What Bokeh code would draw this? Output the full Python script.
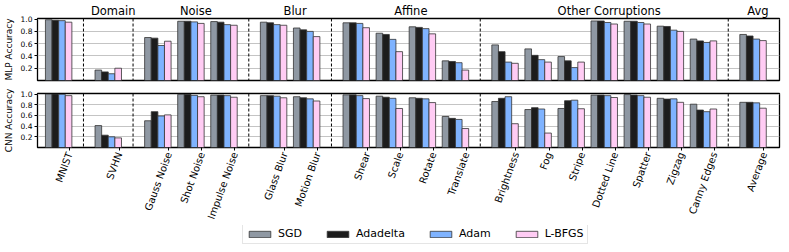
import math
from bokeh.plotting import figure
from bokeh.models import (ColumnDataSource, FixedTicker, LinearAxis, Span, Legend,
                          LegendItem, Range1d, PrintfTickFormatter)
from bokeh.layouts import column
from bokeh.embed import file_html
from bokeh.resources import INLINE

# ---------------- data ----------------
categories = ["MNIST", "SVHN", "Gauss Noise", "Shot Noise", "Impulse Noise",
              "Glass Blur", "Motion Blur", "Shear", "Scale", "Rotate", "Translate",
              "Brightness", "Fog", "Stripe", "Dotted Line", "Spatter", "Zigzag",
              "Canny Edges", "Average"]
group_names = ["", "Domain", "Noise", "Blur", "Affine", "Other Corruptions", "Avg"]
group_sizes = [1, 1, 3, 2, 4, 7, 1]
group_title_anchor = [None, 1, 3, (5, 6), (8, 9), 14, 18]

series = ["SGD", "Adadelta", "Adam", "L-BFGS"]
colors = ["#8f98a3", "#1c1c1c", "#7fb3ff", "#ffccf4"]

mlp_sgd      = [0.99, 0.17, 0.70, 0.965, 0.96, 0.95, 0.855, 0.94, 0.77, 0.875, 0.32, 0.58, 0.515, 0.39, 0.97, 0.965, 0.885, 0.675, 0.75]
mlp_adadelta = [0.98, 0.14, 0.69, 0.965, 0.95, 0.94, 0.825, 0.94, 0.75, 0.865, 0.31, 0.47, 0.41, 0.32, 0.97, 0.965, 0.88, 0.645, 0.725]
mlp_adam     = [0.975, 0.11, 0.57, 0.955, 0.91, 0.91, 0.80, 0.93, 0.67, 0.845, 0.29, 0.30, 0.34, 0.21, 0.945, 0.945, 0.82, 0.62, 0.675]
mlp_lbfgs    = [0.95, 0.20, 0.64, 0.93, 0.90, 0.90, 0.715, 0.86, 0.47, 0.76, 0.17, 0.28, 0.30, 0.30, 0.92, 0.92, 0.80, 0.645, 0.65]

cnn_sgd      = [1.0, 0.41, 0.50, 0.995, 0.98, 0.97, 0.95, 0.985, 0.96, 0.93, 0.58, 0.86, 0.71, 0.73, 0.98, 0.99, 0.92, 0.81, 0.845]
cnn_adadelta = [1.0, 0.23, 0.67, 0.995, 0.98, 0.97, 0.93, 0.985, 0.94, 0.92, 0.545, 0.92, 0.745, 0.875, 0.98, 0.98, 0.905, 0.70, 0.845]
cnn_adam     = [0.995, 0.20, 0.59, 0.975, 0.97, 0.96, 0.91, 0.97, 0.92, 0.91, 0.525, 0.95, 0.72, 0.885, 0.97, 0.97, 0.91, 0.67, 0.835]
cnn_lbfgs    = [0.97, 0.18, 0.61, 0.95, 0.94, 0.93, 0.87, 0.915, 0.73, 0.84, 0.355, 0.445, 0.27, 0.725, 0.935, 0.94, 0.845, 0.72, 0.735]

y_ticks = [0.2, 0.4, 0.6, 0.8, 1.0]

# ---------------- positions ----------------
BAR_W = 0.2
GROUP_GAP = 1.5
pos = []
cur = 0.0
for gi, n in enumerate(group_sizes):
    if gi > 0:
        cur += GROUP_GAP - 1.0
    for k in range(n):
        pos.append(cur)
        cur += 1.0
boundaries = []
idx = 0
for n in group_sizes[:-1]:
    idx += n
    boundaries.append((pos[idx - 1] + pos[idx]) / 2.0)

tick_pos = [x + 0.33 for x in pos]
offsets = [(i - 1.5) * BAR_W for i in range(4)]

x_range = Range1d(-0.64, 21.8)
FONT = "DejaVu Sans"
W = 781


def make_panel(vals, ylabel, height, top_border, bottom_border):
    p = figure(width=W, height=height, x_range=x_range, y_range=Range1d(0, 1.01),
               output_backend="svg", toolbar_location=None, x_axis_location=None,
               min_border_left=33, min_border_right=2,
               min_border_top=top_border, min_border_bottom=bottom_border)
    p.outline_line_color = "black"
    p.outline_line_width = 1.3
    p.xgrid.visible = False
    p.ygrid.ticker = FixedTicker(ticks=y_ticks)
    p.ygrid.grid_line_color = "#c4c4c4"
    p.ygrid.grid_line_width = 1
    ya = p.yaxis[0]
    ya.ticker = FixedTicker(ticks=y_ticks)
    ya.formatter = PrintfTickFormatter(format="%.1f")
    ya.axis_line_color = None
    ya.major_tick_out = 3
    ya.major_tick_in = 0
    ya.minor_tick_line_color = None
    ya.major_tick_line_color = "black"
    ya.major_label_text_font = FONT
    ya.major_label_text_font_size = "7.5px"
    ya.major_label_text_color = "black"
    ya.major_label_standoff = 2
    ya.axis_label = ylabel
    ya.axis_label_text_font = FONT
    ya.axis_label_text_font_size = "9px"
    ya.axis_label_text_font_style = "normal"
    ya.axis_label_text_color = "black"
    ya.axis_label_standoff = 4

    for i, v in enumerate(vals):
        src = ColumnDataSource(dict(x=[x + offsets[i] for x in pos], top=v))
        p.vbar(x="x", top="top", width=BAR_W, bottom=0, source=src,
               fill_color=colors[i], line_color="#333333", line_width=0.8)
    for b in boundaries:
        p.add_layout(Span(location=b, dimension="height", line_color="black",
                          line_width=1, line_dash="3 2"))
    return p


p1 = make_panel([mlp_sgd, mlp_adadelta, mlp_adam, mlp_lbfgs], "MLP Accuracy", 86, 16, 6)

title_ticks = []
title_labels = {}
for name, anchor in zip(group_names, group_title_anchor):
    if anchor is None:
        continue
    if isinstance(anchor, tuple):
        t = (pos[anchor[0]] + pos[anchor[1]]) / 2.0 + 0.15
    else:
        t = pos[anchor] + 0.15
    title_ticks.append(t)
    title_labels[t] = name
ta = LinearAxis(ticker=FixedTicker(ticks=title_ticks), major_label_overrides=title_labels,
                major_tick_out=0, major_tick_in=0, minor_tick_out=0, minor_tick_in=0,
                axis_line_color=None, major_tick_line_color=None, minor_tick_line_color=None,
                major_label_text_font=FONT, major_label_text_font_size="11.5px",
                major_label_text_color="black", major_label_standoff=1)
p1.add_layout(ta, "above")

p2 = make_panel([cnn_sgd, cnn_adadelta, cnn_adam, cnn_lbfgs], "CNN Accuracy", 139, 7, 70)

xa = LinearAxis(ticker=FixedTicker(ticks=tick_pos),
                major_label_overrides={t: c for t, c in zip(tick_pos, categories)},
                axis_line_color=None, major_tick_out=3, major_tick_in=0,
                minor_tick_line_color=None, major_tick_line_color="black",
                major_label_orientation=math.radians(70),
                major_label_text_font=FONT, major_label_text_font_size="10px",
                major_label_text_color="black", major_label_standoff=2)
p2.add_layout(xa, "below")

# legend strip (its own small plot below the panels); its renderers are hidden,
# only their legend swatches are drawn
pl = figure(width=W, height=19, x_range=Range1d(0, 1), y_range=Range1d(0, 1),
            output_backend="svg", toolbar_location=None,
            x_axis_location=None, y_axis_location=None,
            min_border_left=0, min_border_right=0, min_border_top=0, min_border_bottom=0)
pl.outline_line_color = None
pl.xgrid.visible = False
pl.ygrid.visible = False
leg_rends = []
for c in colors:
    r = pl.vbar(x=[-10], bottom=[5], top=[6], width=0.1, fill_color=c,
                line_color="#333333", line_width=0.8)
    r.visible = False
    leg_rends.append(r)
legend = Legend(items=[LegendItem(label=s, renderers=[r]) for s, r in zip(series, leg_rends)],
                location=(205, 0), orientation="horizontal",
                label_text_font=FONT, label_text_font_size="11px", label_text_color="black",
                label_height=13, label_width=10,
                glyph_width=27, glyph_height=8, label_standoff=5, spacing=22,
                padding=3, margin=0, border_line_color="#cccccc", border_line_width=1,
                background_fill_color="white", background_fill_alpha=1.0,
                inactive_fill_alpha=0.0)
pl.add_layout(legend)

layout = column(p1, p2, pl, spacing=0)
open("out.html", "w").write(file_html(layout, INLINE))
